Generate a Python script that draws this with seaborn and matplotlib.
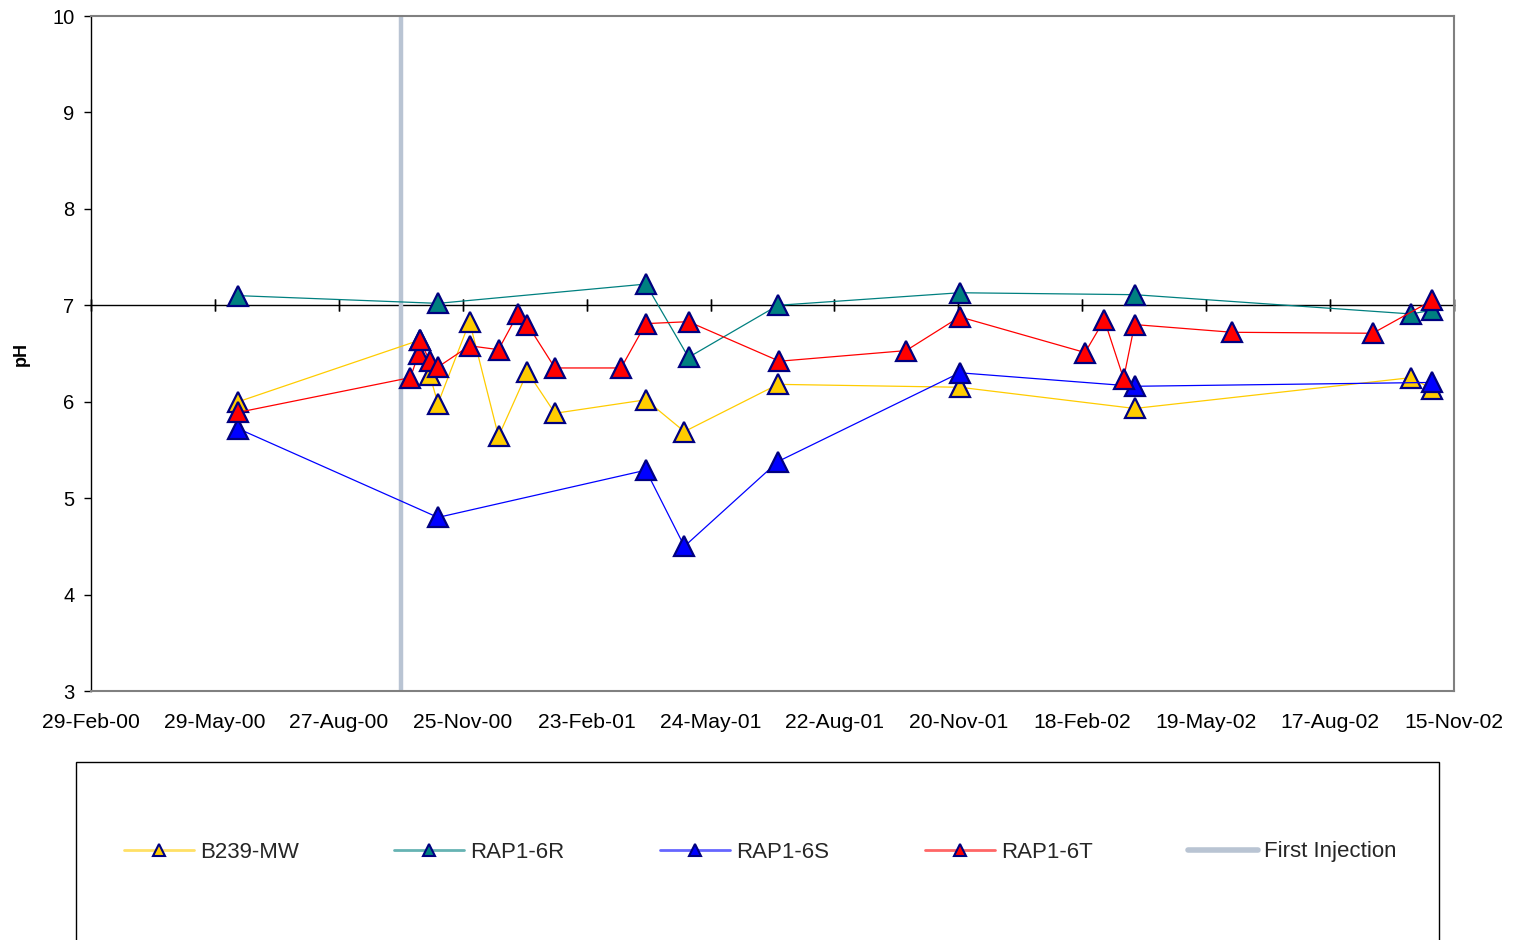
import matplotlib
matplotlib.use('Agg')
import matplotlib.pyplot as plt
import matplotlib.dates as mdates
from matplotlib.patches import Rectangle
from matplotlib.lines import Line2D
import seaborn as sns
import pandas as pd

# ---------------- data ----------------
b239_dates = ["2000-06-15", "2000-10-25", "2000-11-01", "2000-11-07", "2000-11-30",
              "2000-12-21", "2001-01-11", "2001-01-31", "2001-04-07", "2001-05-05",
              "2001-07-12", "2001-11-21", "2002-03-28", "2002-10-15", "2002-10-30"]
b239_ph = [6.00, 6.64, 6.28, 5.98, 6.83, 5.64, 6.31, 5.88, 6.02, 5.69,
           6.18, 6.15, 5.93, 6.25, 6.13]

r6r_dates = ["2000-06-15", "2000-11-07", "2001-04-07", "2001-05-08", "2001-07-12",
             "2001-11-21", "2002-03-28", "2002-10-15", "2002-10-30"]
r6r_ph = [7.10, 7.02, 7.22, 6.46, 7.00, 7.13, 7.11, 6.91, 6.95]

r6s_dates = ["2000-06-15", "2000-11-07", "2001-04-07", "2001-05-05", "2001-07-12",
             "2001-11-21", "2002-03-28", "2002-10-30"]
r6s_ph = [5.72, 4.80, 5.29, 4.50, 5.38, 6.30, 6.16, 6.20]

r6t_dates = ["2000-06-15", "2000-10-18", "2000-10-24", "2000-10-25", "2000-11-01",
             "2000-11-07", "2000-11-30", "2000-12-21", "2001-01-04", "2001-01-11",
             "2001-01-31", "2001-03-20", "2001-04-07", "2001-05-08", "2001-07-13",
             "2001-10-13", "2001-11-21", "2002-02-20", "2002-03-06", "2002-03-20",
             "2002-03-28", "2002-06-07", "2002-09-17", "2002-10-30"]
r6t_ph = [5.89, 6.25, 6.50, 6.64, 6.42, 6.36, 6.58, 6.54, 6.91, 6.80,
          6.35, 6.35, 6.81, 6.83, 6.42, 6.53, 6.88, 6.51, 6.85, 6.24,
          6.80, 6.72, 6.71, 7.05]

series_names = ["B239-MW", "RAP1-6R", "RAP1-6S", "RAP1-6T"]
first_injection = "2000-10-11"

tick_dates = ["2000-02-29", "2000-05-29", "2000-08-27", "2000-11-25", "2001-02-23",
              "2001-05-24", "2001-08-22", "2001-11-20", "2002-02-18", "2002-05-19",
              "2002-08-17", "2002-11-15"]
tick_labels = ["29-Feb-00", "29-May-00", "27-Aug-00", "25-Nov-00", "23-Feb-01",
               "24-May-01", "22-Aug-01", "20-Nov-01", "18-Feb-02", "19-May-02",
               "17-Aug-02", "15-Nov-02"]
y_ticks = [3, 4, 5, 6, 7, 8, 9, 10]

# ---------------- styling ----------------
sns.set_theme(style='white')
plt.rcParams['font.family'] = ['Liberation Sans', 'DejaVu Sans']

line_colors = ["#FFCC00", "#008080", "#0000FF", "#FF0000"]
face_colors = ["#FFCC00", "#008080", "#0000FF", "#FF0000"]
legend_line_colors = ["#FFE066", "#66B3B3", "#6666FF", "#FF6666"]
edge_color = "#000080"
inj_color = "#B9C4D3"

W, H = 1514, 940
fig = plt.figure(figsize=(W / 100, H / 100), dpi=100)
ax = fig.add_axes([91 / W, 1 - 691 / H, 1363 / W, 675 / H])

all_dates = [b239_dates, r6r_dates, r6s_dates, r6t_dates]
all_ph = [b239_ph, r6r_ph, r6s_ph, r6t_ph]

ax.axvline(pd.Timestamp(first_injection), color=inj_color, lw=3.2, zorder=1)

for i, (name, d, v) in enumerate(zip(series_names, all_dates, all_ph)):
    df = pd.DataFrame({"date": pd.to_datetime(d), "pH": v})
    sns.lineplot(data=df, x="date", y="pH", ax=ax, color=line_colors[i],
                 linewidth=0.9, marker="^", markersize=14.5,
                 markerfacecolor=face_colors[i], markeredgecolor=edge_color,
                 markeredgewidth=1.6, estimator=None, sort=False, zorder=3 + i)

ax.set_xlim(pd.Timestamp(tick_dates[0]), pd.Timestamp(tick_dates[-1]))
ax.set_ylim(3, 10)
ax.set_xticks(pd.to_datetime(tick_dates))
ax.set_xticklabels(tick_labels)
ax.set_yticks(y_ticks)
ax.set_yticklabels([str(t) for t in y_ticks])
ax.tick_params(axis='x', bottom=True, length=0, pad=16, labelsize=15.2, labelcolor='black')
ax.tick_params(axis='y', left=True, direction='out', length=5, width=1,
               color='black', pad=7, labelsize=14.5, labelcolor='black')
ax.set_xlabel("")
ax.set_ylabel("pH", fontsize=13, fontweight='bold', color='black')
ax.yaxis.set_label_coords(-0.045, 0.5)

for s in ['top', 'right', 'bottom']:
    ax.spines[s].set_color('#808080')
    ax.spines[s].set_linewidth(1.5)
ax.spines['left'].set_color('black')
ax.spines['left'].set_linewidth(1)
ax.grid(False)

# axis crossing at pH 7 with tick marks
sec = ax.secondary_xaxis((7 - 3) / (10 - 3))
sec.set_xticks(mdates.date2num(pd.to_datetime(tick_dates)))
sec.tick_params(direction='inout', length=9, width=1, color='black',
                labeltop=False, labelbottom=False, top=True, bottom=True)
for s in sec.spines.values():
    s.set_color('black')
    s.set_linewidth(1)

# legend box
fig.patches.append(Rectangle((76 / W, -0.05), (1439 - 76) / W, 0.05 + 1 - 762 / H,
                             transform=fig.transFigure, fill=False,
                             edgecolor='black', linewidth=1, zorder=0))

handles = []
for i, name in enumerate(series_names):
    handles.append(Line2D([], [], color=legend_line_colors[i], lw=2, marker="^",
                          markersize=9, markerfacecolor=face_colors[i],
                          markeredgecolor=edge_color, markeredgewidth=1.5))
handles.append(Line2D([], [], color=inj_color, lw=4))
labels = series_names + ["First Injection"]
leg = fig.legend(handles, labels, loc='center left',
                 bbox_to_anchor=(124 / W, 1 - 852 / H), ncol=5, frameon=False,
                 fontsize=16, handlelength=3.15, handletextpad=0.27,
                 columnspacing=4.3, borderpad=0, borderaxespad=0)

fig.savefig("out.png", dpi=100)
